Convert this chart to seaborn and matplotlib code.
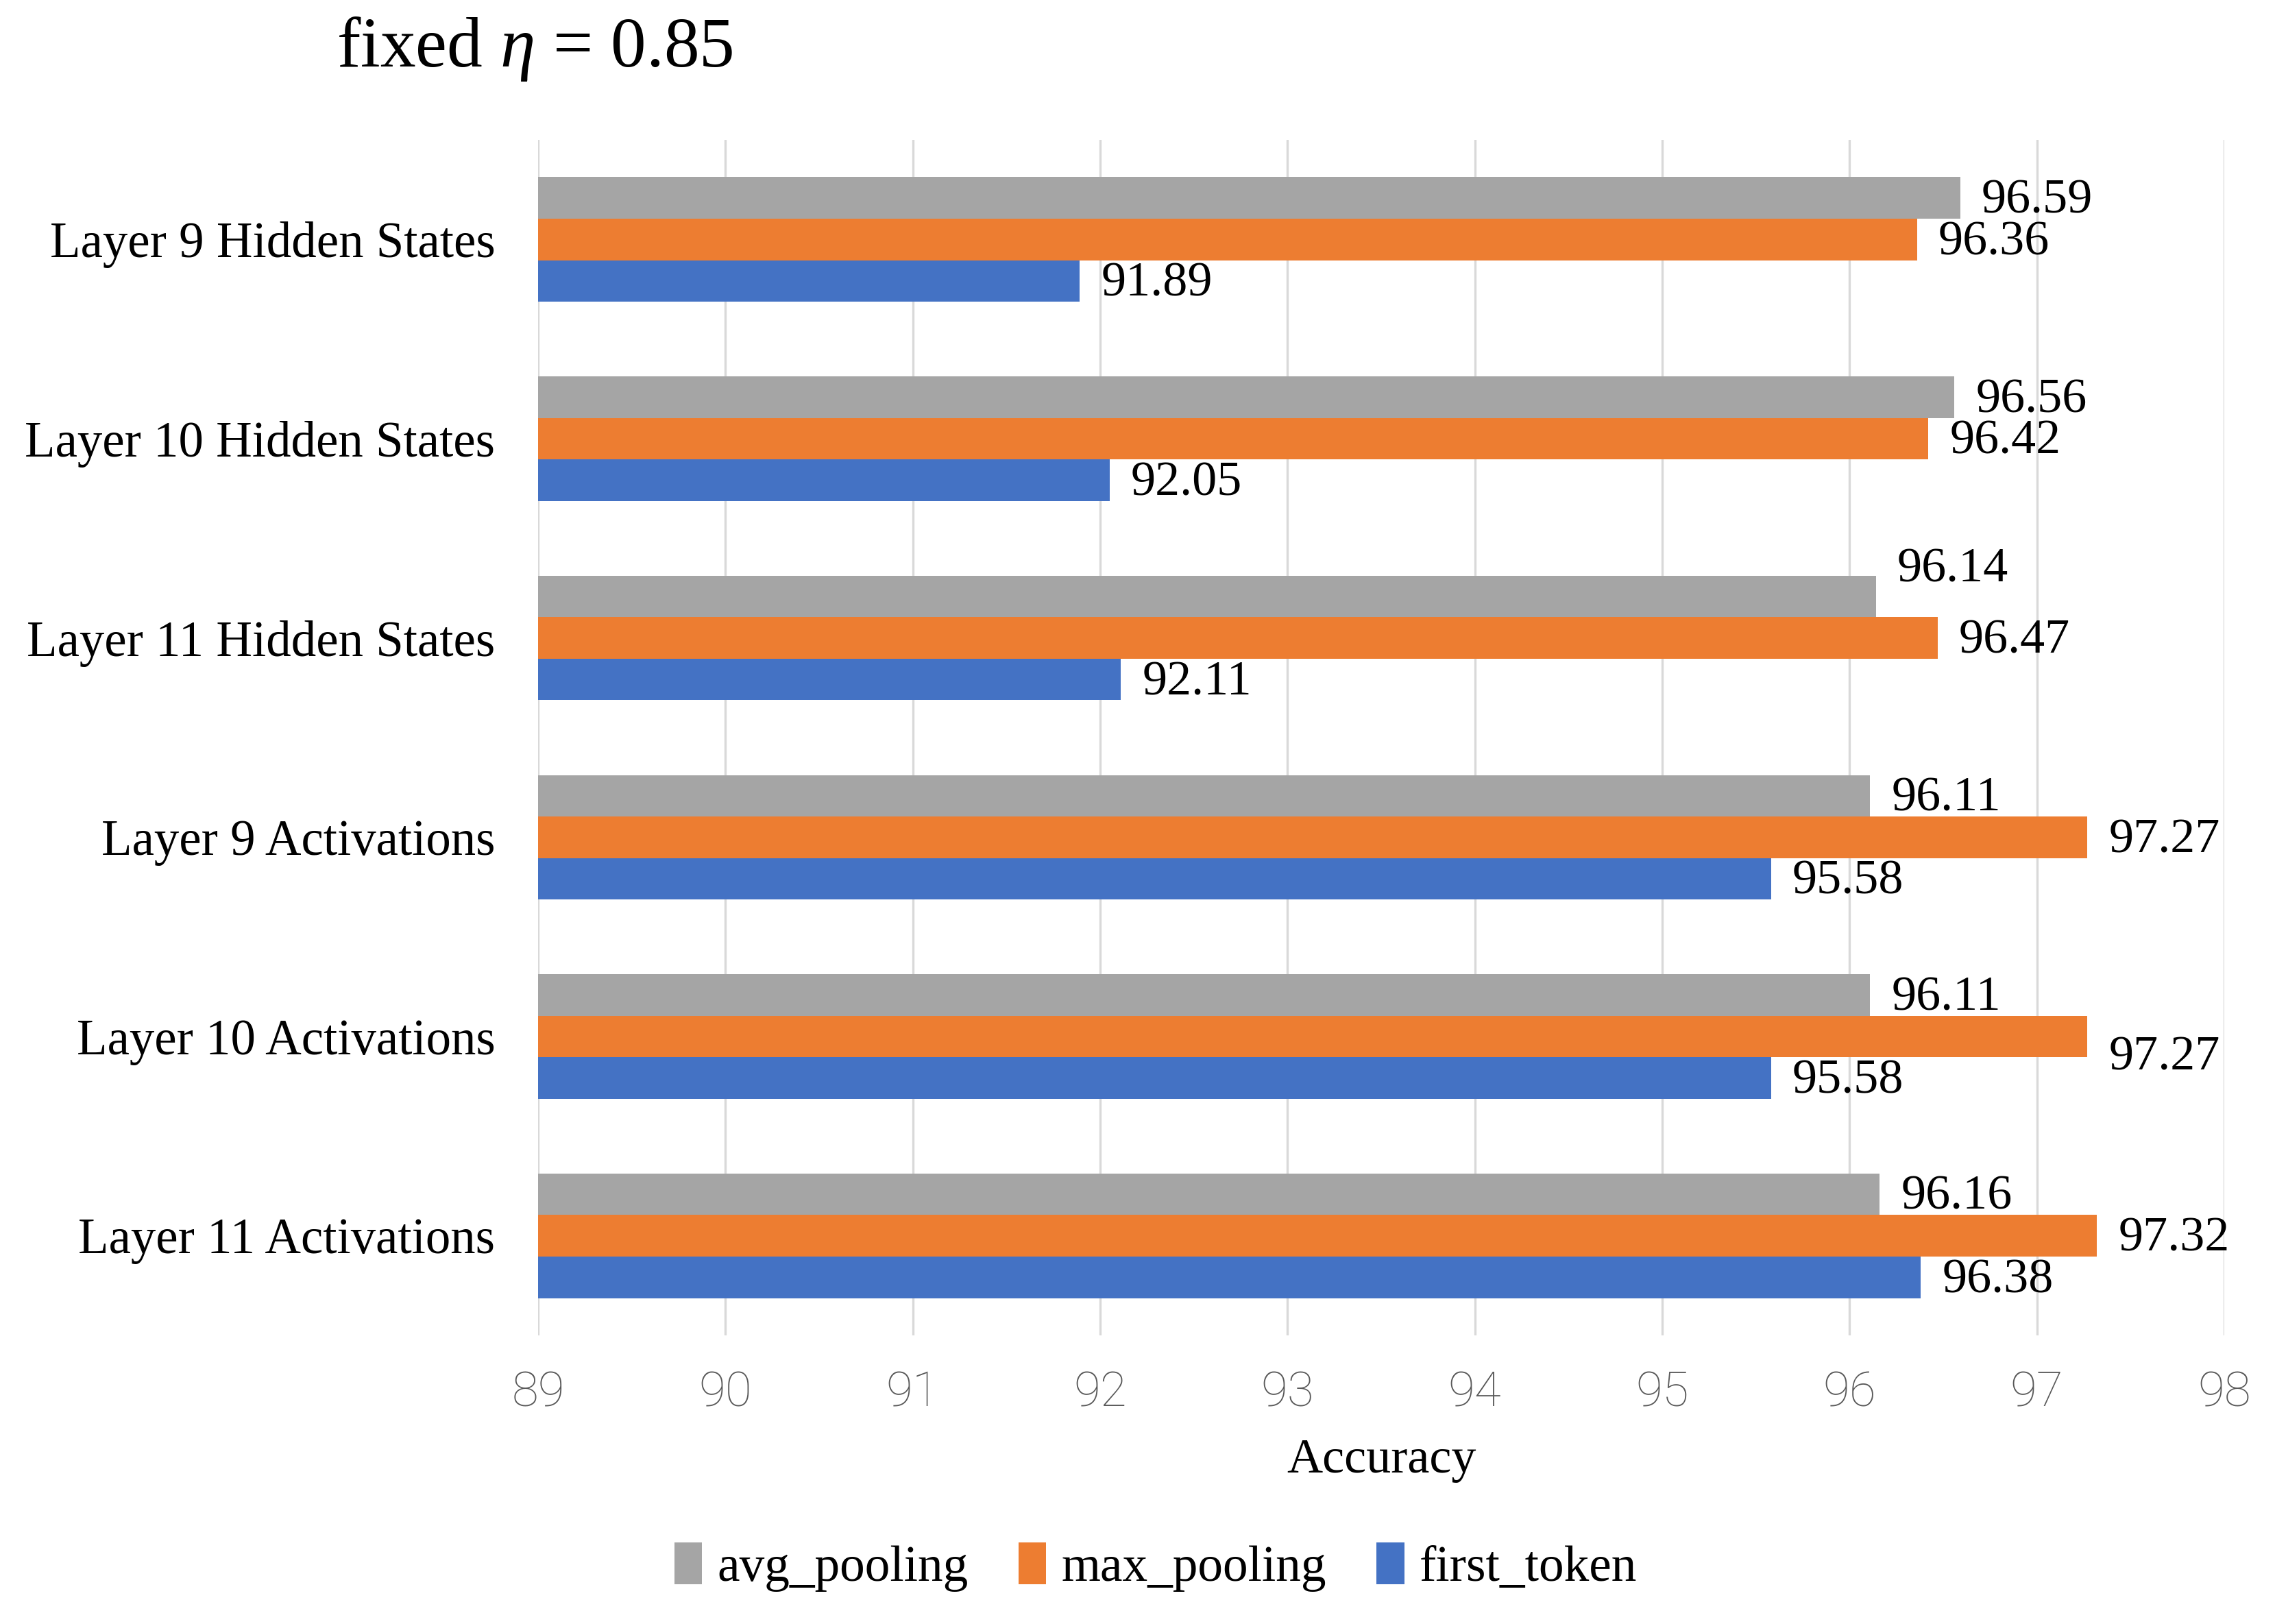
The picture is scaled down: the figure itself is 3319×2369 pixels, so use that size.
import matplotlib
matplotlib.use("Agg")
import matplotlib.pyplot as plt
import seaborn as sns
import pandas as pd

categories = ["Layer 9 Hidden States", "Layer 10 Hidden States", "Layer 11 Hidden States",
              "Layer 9 Activations", "Layer 10 Activations", "Layer 11 Activations"]
series_names = ["avg_pooling", "max_pooling", "first_token"]
avg_pooling = [96.59, 96.56, 96.14, 96.11, 96.11, 96.16]
max_pooling = [96.36, 96.42, 96.47, 97.27, 97.27, 97.32]
first_token = [91.89, 92.05, 92.11, 95.58, 95.58, 96.38]
x_ticks = [89, 90, 91, 92, 93, 94, 95, 96, 97, 98]

colors = ["#A5A5A5", "#ED7D31", "#4472C4"]

rows = []
for name, vals in zip(series_names, [avg_pooling, max_pooling, first_token]):
    for c, v in zip(categories, vals):
        rows.append({"Layer": c, "Method": name, "Accuracy": v})
df = pd.DataFrame(rows)

sns.set_theme(style="white")
plt.rcParams['font.family'] = ['Liberation Serif', 'DejaVu Serif']
plt.rcParams['mathtext.fontset'] = 'custom'
plt.rcParams['mathtext.rm'] = 'Liberation Serif'
plt.rcParams['mathtext.it'] = 'Liberation Serif:italic'
plt.rcParams['text.color'] = 'black'
plt.rcParams['axes.labelcolor'] = 'black'
plt.rcParams['ytick.color'] = 'black'

fig = plt.figure(figsize=(3319/300, 2369/300), dpi=300)
ax = fig.add_axes([0.2365, 0.1777, 0.9777 - 0.2365, 0.9139 - 0.1777])

sns.barplot(data=df, y="Layer", x="Accuracy", hue="Method", order=categories,
            hue_order=series_names, palette=colors, orient="h", width=0.625,
            gap=0, dodge=True, saturation=1, ax=ax, legend=True, errorbar=None,
            linewidth=0, edgecolor="none")

ax.set_xlim(89, 98)
ax.set_xticks(x_ticks)
ax.set_xticklabels([str(t) for t in x_ticks], family=['Roboto', 'DejaVu Sans'],
                   fontweight='light', color="#595959", fontsize=17)
ax.tick_params(axis='x', length=0, pad=12)
ax.tick_params(axis='y', length=0, pad=15, labelsize=17.5, labelcolor='black')
ax.grid(axis='x', color="#D9D9D9", linewidth=0.8)
ax.set_axisbelow(True)
for s in ax.spines.values():
    s.set_visible(False)
ax.set_ylabel("")
ax.set_xlabel("Accuracy", fontsize=17.3, labelpad=8, color='black')

# data labels
label_dy = {(2, 0): -0.15, (4, 1): 0.09}
for si, cont in enumerate(ax.containers):
    for ci, bar in enumerate(cont):
        w = bar.get_width()
        yc = bar.get_y() + bar.get_height() / 2 + label_dy.get((ci, si), 0) + 0.015
        ax.annotate(f"{w:.2f}", xy=(w, yc), xytext=(7.5, 0), textcoords="offset points",
                    ha="left", va="center", fontsize=17.3, color="black")

leg = ax.legend(loc="center", bbox_to_anchor=(0.508, 0.035), bbox_transform=fig.transFigure,
                ncol=3, frameon=False, fontsize=17.6, handlelength=0.55, handleheight=0.9,
                handletextpad=0.3, columnspacing=1.0)
for t in leg.get_texts():
    t.set_color('black')

fig.text(0.148, 0.970, r"fixed $\eta$ = 0.85", fontsize=24.8, ha="left", va="center",
         color='black')

fig.savefig("out.png", dpi=300)
